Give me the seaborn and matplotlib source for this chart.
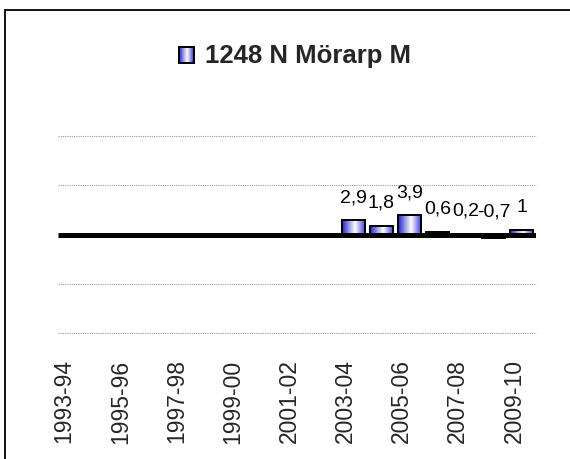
import numpy as np
import pandas as pd
import matplotlib
matplotlib.use("Agg")
import matplotlib.pyplot as plt
import matplotlib.transforms as mtransforms
from matplotlib.colors import LinearSegmentedColormap
from matplotlib.patches import Rectangle
import seaborn as sns

# Seasons on the category axis
seasons = ["1993-94", "1994-95", "1995-96", "1996-97", "1997-98", "1998-99",
           "1999-00", "2000-01", "2001-02", "2002-03", "2003-04", "2004-05",
           "2005-06", "2006-07", "2007-08", "2008-09", "2009-10"]
# Seasons with a reported value and the values themselves
value_seasons = ["2003-04", "2004-05", "2005-06", "2006-07", "2007-08", "2008-09", "2009-10"]
values = [2.9, 1.8, 3.9, 0.6, 0.2, -0.7, 1.0]
value_labels = ["2,9", "1,8", "3,9", "0,6", "0,2", "-0,7", "1"]
series_name = "1248 N Mörarp M"
y_min, y_max, y_step = -20, 20, 10

sns.set_theme(style="white")
plt.rcParams["font.family"] = ["Liberation Sans", "DejaVu Sans"]

df = pd.DataFrame({"season": value_seasons, "value": values})

fig = plt.figure(figsize=(5.70, 4.59), dpi=100)
ax = fig.add_axes([58 / 570, 126 / 459, 478 / 570, 197 / 459])

sns.barplot(data=df, x="season", y="value", order=seasons, ax=ax,
            width=0.82, color="white", edgecolor="black", linewidth=1.4,
            errorbar=None, zorder=3)

# blue-white-blue shading across each bar
shade = LinearSegmentedColormap.from_list(
    "shade", [(0.0, "#2424d0"), (0.55, "#ffffff"), (1.0, "#3434dc")])
grad = np.linspace(0, 1, 64).reshape(1, -1)
for bar in ax.patches:
    x0, w = bar.get_x(), bar.get_width()
    y0, h = bar.get_y(), bar.get_height()
    if not np.isfinite(h) or h == 0:
        continue
    img = ax.imshow(grad, cmap=shade, aspect="auto",
                    extent=[x0, x0 + w, min(y0, y0 + h), max(y0, y0 + h)],
                    zorder=3.5, interpolation="bicubic")
    img.set_clip_path(bar)
    ax.add_patch(Rectangle((x0, y0), w, h, fill=False, edgecolor="black",
                           linewidth=1.4, zorder=4))

ax.set_xlim(-0.5, len(seasons) - 0.5)
ax.set_ylim(y_min, y_max)

# dotted gridlines and the heavy zero line
for yv in range(y_min, y_max + 1, y_step):
    if yv != 0:
        ax.axhline(yv, color="#9a9a9a", linestyle=(0, (1, 1)), linewidth=0.8,
                   zorder=1, clip_on=False)
ax.axhline(0, color="black", linewidth=3.6, zorder=5, solid_capstyle="butt")

# value labels
for s, v, lab in zip(value_seasons, values, value_labels):
    xi = seasons.index(s)
    ax.annotate(lab, (xi, max(v, 0)), xytext=(0, 13), textcoords="offset points",
                ha="center", va="baseline", fontsize=14, color="black", zorder=6)

for sp in ax.spines.values():
    sp.set_visible(False)
ax.set_yticks([])
ax.set_xlabel("")
ax.set_ylabel("")
ticks = list(range(0, len(seasons), 2))
ax.set_xticks(ticks)
ax.set_xticklabels([seasons[i] for i in ticks], rotation=90, fontsize=16.5,
                   va="top", ha="center")
ax.tick_params(axis="x", length=0, pad=19)
shift = mtransforms.ScaledTranslation(-8 / 100, 0, fig.dpi_scale_trans)
for t in ax.get_xticklabels():
    t.set_transform(t.get_transform() + shift)

# title-style legend entry at the top
fig.text(205 / 570, 1 - 63 / 459, series_name, fontsize=18.5, fontweight="bold",
         ha="left", va="baseline")
kax = fig.add_axes([179 / 570, 1 - 63 / 459, 15 / 570, 16 / 459])
kax.imshow(grad, cmap=shade, aspect="auto", extent=[0, 1, 0, 1], interpolation="bicubic")
kax.set_xlim(0, 1)
kax.set_ylim(0, 1)
kax.set_xticks([])
kax.set_yticks([])
for sp in kax.spines.values():
    sp.set_color("black")
    sp.set_linewidth(1.4)

# chart frame, open on the right and bottom
fig.add_artist(Rectangle((5 / 570, -0.1), 1.2, 1 - 10 / 459 + 0.1,
                         transform=fig.transFigure, fill=False,
                         edgecolor="black", linewidth=1.3))

fig.savefig("out.png", dpi=100)
